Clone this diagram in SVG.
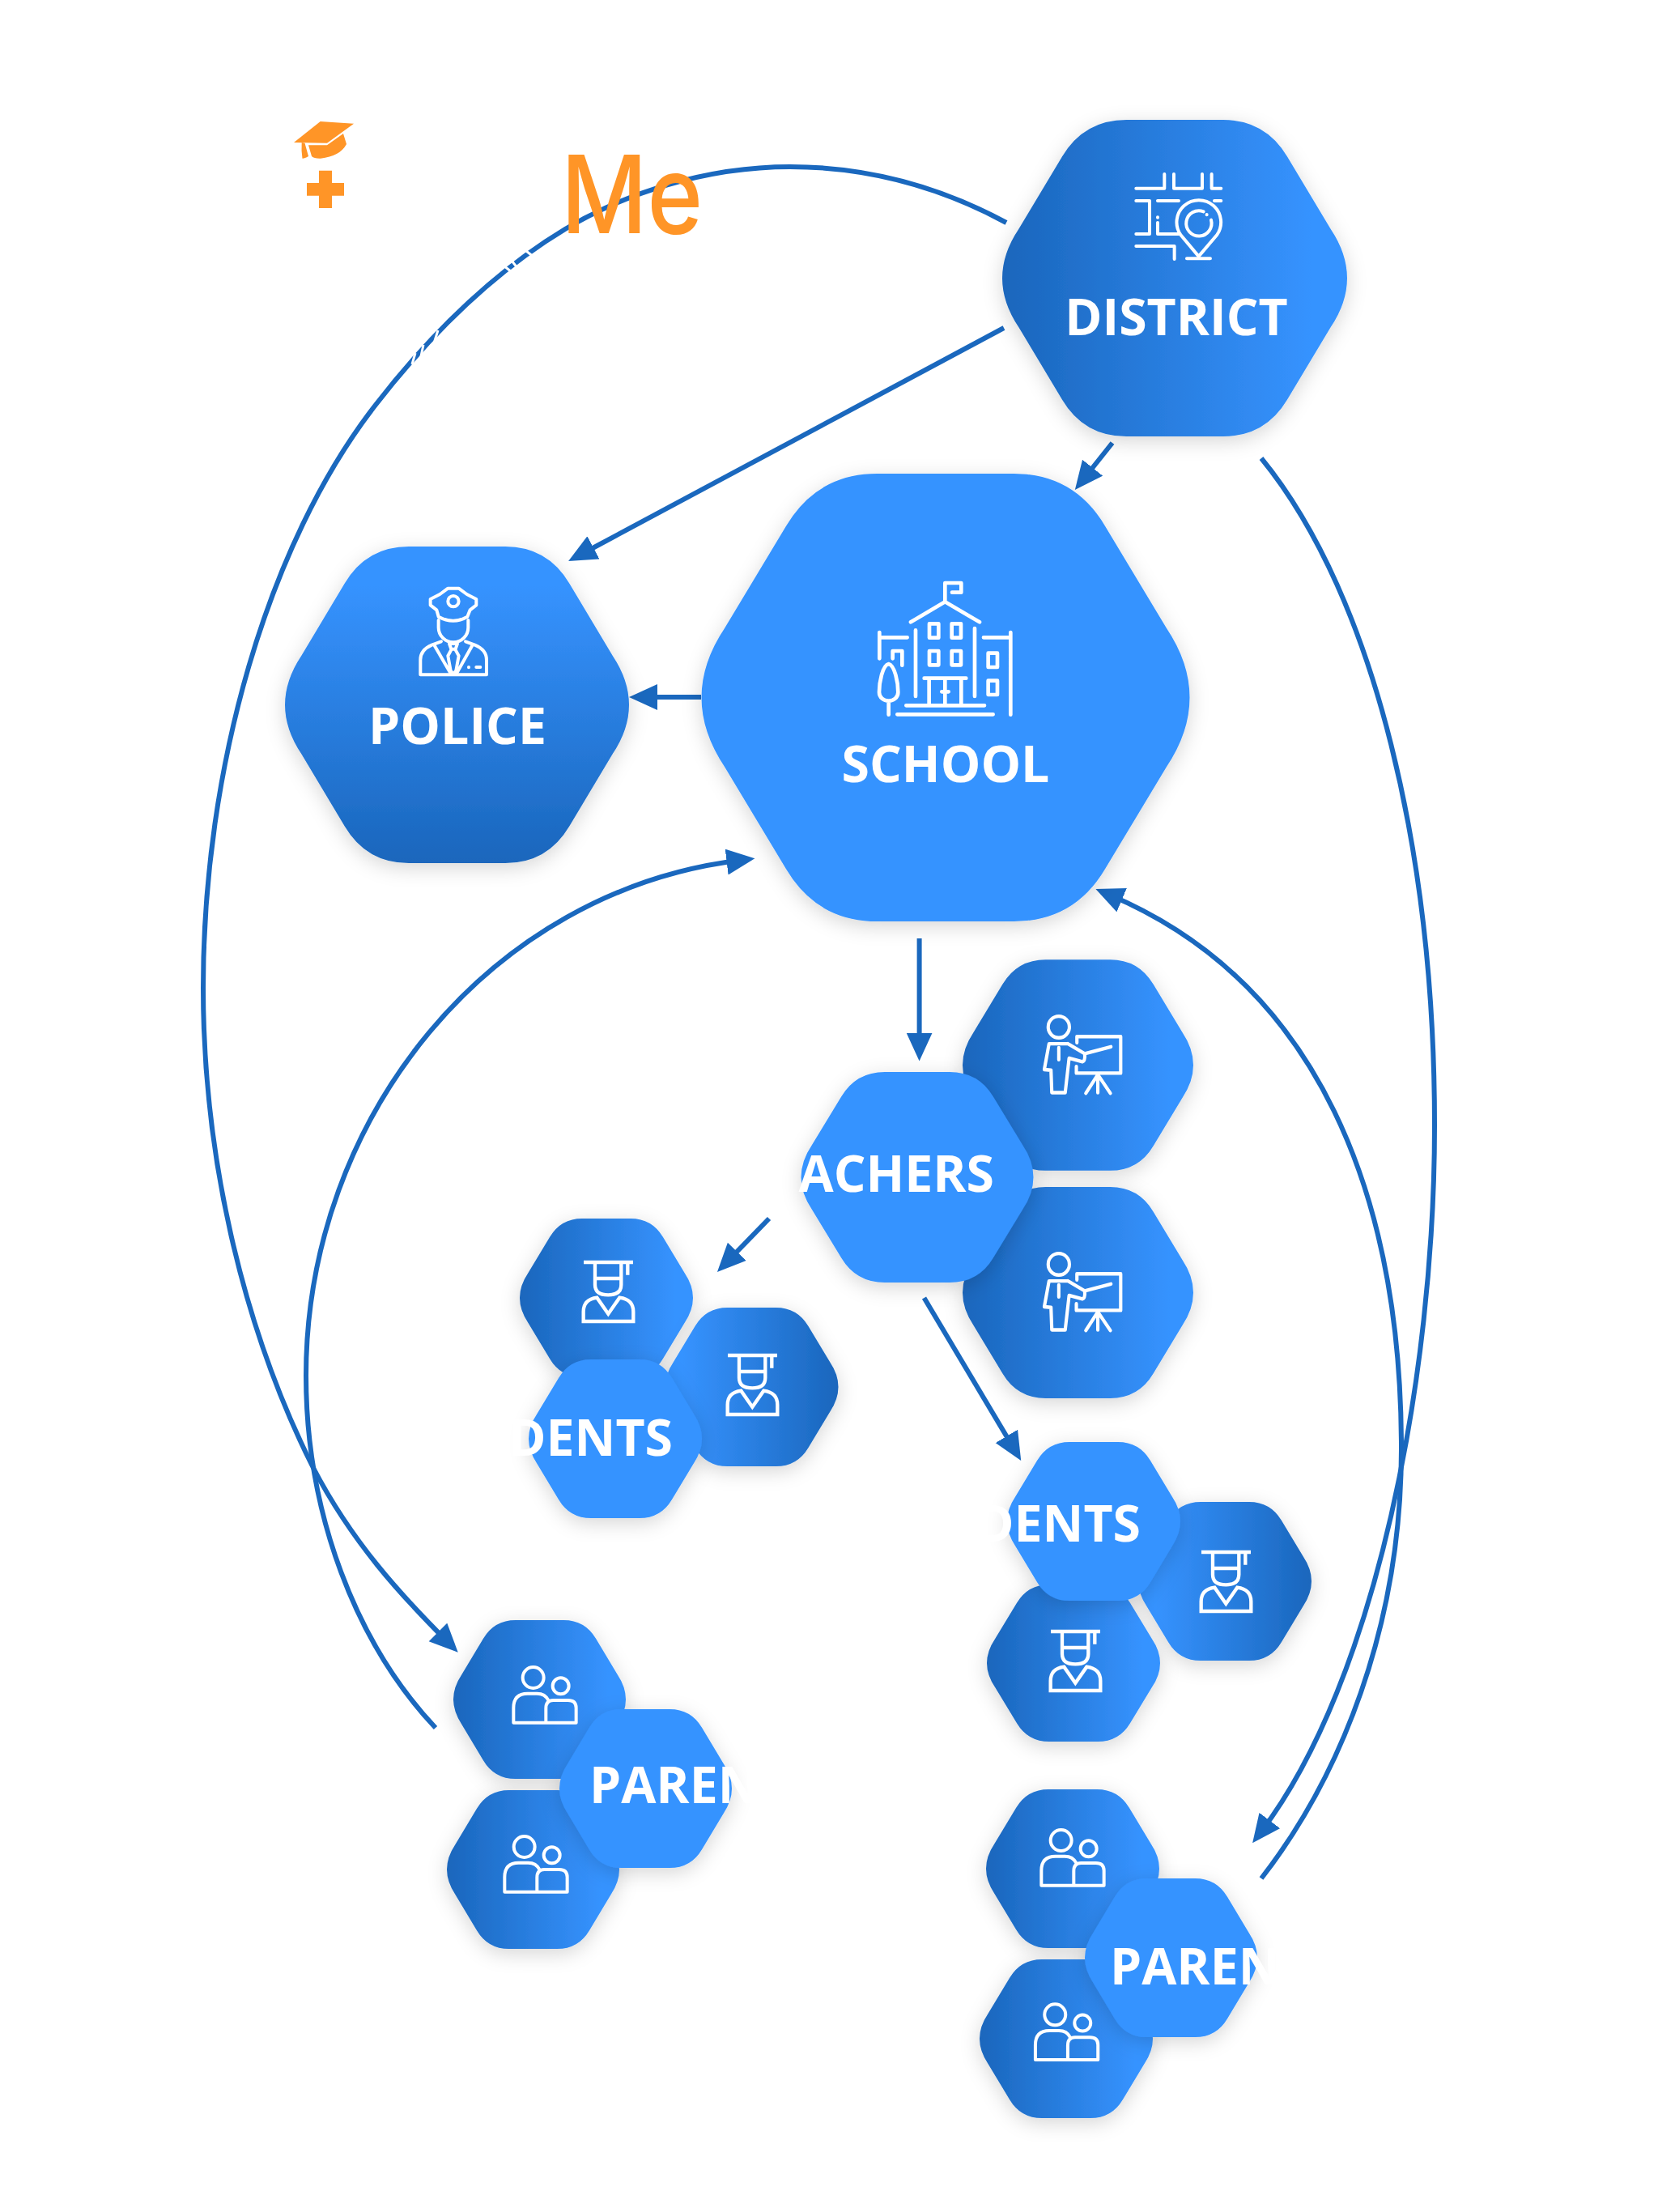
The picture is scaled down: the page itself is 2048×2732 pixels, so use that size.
<svg xmlns="http://www.w3.org/2000/svg" xmlns:xlink="http://www.w3.org/1999/xlink" width="2048" height="2732" viewBox="0 0 2048 2732">
<style>
.lbl{font-family:"Open Sans","Noto Sans","Liberation Sans",sans-serif;font-weight:700;font-size:62.500px;fill:#fff}
.flat{fill:#3693ff}.lr{fill:url(#gLR)}.rl{fill:url(#gRL)}.tb{fill:url(#gTB)}
.ic{fill:none;stroke:#fff;stroke-linecap:round;stroke-linejoin:round}
.sq{fill:none;stroke:#fff;stroke-linecap:butt;stroke-linejoin:miter}
.c{fill:none;stroke:#1a68be;stroke-width:6}
.o{fill:#ff9527}
</style>
<defs>
<linearGradient id="gLR" x1="0" y1="0" x2="1" y2="0"><stop offset="0" stop-color="#1a66bc"/><stop offset=".9" stop-color="#3693ff"/></linearGradient>
<linearGradient id="gRL" x1="1" y1="0" x2="0" y2="0"><stop offset="0" stop-color="#1a66bc"/><stop offset=".9" stop-color="#3693ff"/></linearGradient>
<linearGradient id="gTB" x1="0" y1="0" x2="0" y2="1"><stop offset=".12" stop-color="#3693ff"/><stop offset="1" stop-color="#1a66bc"/></linearGradient>
<filter id="sh" x="-25%" y="-25%" width="150%" height="150%"><feDropShadow dx="0" dy="6" stdDeviation="12" flood-color="#000" flood-opacity=".16"/></filter>
<marker id="ah" markerUnits="userSpaceOnUse" markerWidth="36" markerHeight="33" refX="17" refY="16" orient="auto"><path d="M0 0L35 16L0 32Z" fill="#1a68be"/></marker>
<path id="hex" d="M-.28 -1L.28 -1Q.526 -1 .653 -.767L.905 -.31Q1.095 0 .905 .31L.653 .767Q.526 1 .28 1L-.28 1Q-.526 1 -.653 .767L-.905 .31Q-1.095 0 -.905 -.31L-.653 -.767Q-.526 -1 -.28 -1Z"/>
<g id="icTeacher" transform="translate(960 1170) scale(.3444 .37)" class="ic" stroke-width="12">
<ellipse cx="1010" cy="266" rx="38" ry="36"/>
<path d="M1043 322H975L958 408L982 410L985 485H1033L1047 370L1095 382Q1105 380 1103 355L1043 322"/>
<path d="M1010 335V375M1103 355L1197 332M1075 318V298H1232V420H1073V398M1150 425V485M1150 425L1107 487M1150 425L1195 487"/>
</g>
<g id="icStudent" transform="translate(620 1480) scale(.3333)" class="sq" stroke-width="13">
<path d="M303 237H486M466 237V284M345 237V320Q345 358 394 358Q442 358 442 320V237M345 297H442"/>
<path d="M302 456V420Q302 375 352 368L394 428L436 368Q487 375 487 420V456Z"/>
</g>
<g id="icParent" transform="translate(520 1980) scale(.3333)" class="ic" stroke-width="12">
<circle cx="416" cy="276" r="39"/><circle cx="518" cy="307" r="30"/>
<path d="M343 443V388Q343 335 395 335H430Q460 335 472 360M343 443H575V388Q575 360 545 360H490Q463 360 463 390V443"/>
</g>
</defs>
<rect width="2048" height="2732" fill="#fff"/>

<g id="connectors">
<path class="c" marker-end="url(#ah)" d="M1374 547L1339 591"/>
<path class="c" marker-end="url(#ah)" d="M1240 405L718 684.500"/>
<path class="c" marker-end="url(#ah)" d="M866 861H795"/>
<path class="c" marker-end="url(#ah)" d="M1135.600 1159V1292.600"/>
<path class="c" marker-end="url(#ah)" d="M950 1505L898.500 1558"/>
<path class="c" marker-end="url(#ah)" d="M1141.500 1603L1252 1788.500"/>
<path class="c" marker-end="url(#ah)" d="M1243 275C1160 230 1070 206 976 206C870 206 770 240 698 283C610 336 530 415 464 500C330 672 251 950 251 1220C251 1440 305 1650 387 1813C435 1905 495 1970 553 2028"/>
<path class="c" marker-end="url(#ah)" d="M538 2134C440 2030 378 1870 378 1699C378 1380 605 1100 914.500 1062.500"/>
<path class="c" marker-end="url(#ah)" d="M1558 2320C1655 2195 1731 2010 1731 1790C1731 1480 1630 1215 1370 1105"/>
<path class="c" marker-end="url(#ah)" d="M1558 566C1700 740 1772 1060 1772 1390C1772 1700 1700 2075 1558 2262"/>
</g>
<g id="line-gaps" fill="none" stroke="#fff" stroke-width="3">
<path d="M650 310L660 318M632 322L640 332M622 328L632 336M541 408L536 424M523 426L520 440M513 436L509 450"/>
</g>

<g id="logo">
<path class="o" d="M395.700 150L437 152.700L404 176.700L363 176Z"/>
<path class="o" d="M424 165L428 178Q420 193 396 195.700Q388 196 385 193L381 179.300H404Z"/>
<path class="o" d="M372.700 176L376.500 176.700L381 193Q376 196 373.500 195.700Q372 186 372.700 176Z"/>
<path class="o" d="M394 210.700H410V226H425V241.700H410V257H394V241.700H379V226H394Z"/>
<text x="693" y="288" class="o" font-family="Inter,'Liberation Sans',sans-serif" font-weight="500" font-size="134" textLength="175" lengthAdjust="spacingAndGlyphs">Me</text>
</g>

<g id="node-district">
<g filter="url(#sh)"><use href="#hex" class="lr" transform="translate(1451 343.500) scale(213 195.500)"/></g>
<g class="ic" stroke-width="12" transform="translate(1200 120) scale(.3333)">
<path d="M610 338H715V285M750 285V338H855V285M890 285V338H925M610 384H660V507H610M690 384H768M900 384H925M690 465V507H768M690 445V446"/>
<path d="M842 590L775 510A82 82 0 1 1 910 510Z"/>
<path d="M860 424A47 47 0 1 0 888 455M872 435V436"/>
<path d="M610 552H752V600M798 598H885"/>
</g>
<text class="lbl" x="1453" y="414" text-anchor="middle">DISTRICT</text>
</g>

<g id="node-police">
<g filter="url(#sh)"><use href="#hex" class="tb" transform="translate(564.500 870.500) scale(212.500 195.500)"/></g>
<g class="ic" stroke-width="12" transform="translate(340 660) scale(.3333)">
<path d="M640 200H680L710 222L745 240V262L722 280L712 305Q660 335 605 305L598 280L575 262V240L610 222Z"/>
<circle cx="660" cy="248" r="20"/>
<path d="M605 318V345A55 55 0 0 0 715 345V318"/>
<path d="M615 397L580 410Q538 428 538 465V520H783V465Q783 428 740 410L705 397"/>
<path d="M590 412L650 515M730 412L672 515M645 405H675L668 425H652ZM652 428L640 450L650 505L660 518L670 505L680 450L668 428M717 492V493M745 492H760"/>
</g>
<text class="lbl" x="565" y="919" text-anchor="middle">POLICE</text>
</g>

<g id="node-school">
<g filter="url(#sh)"><use href="#hex" class="flat" transform="translate(1168 861.500) scale(301.500 276.500)"/></g>
<g class="ic" stroke-width="14" transform="translate(1000 680) scale(.3333)">
<path d="M502 190V120H562V155H528M375 265L502 190L630 265M393 295V540M612 288V540"/>
<rect x="444" y="271" width="34" height="52"/><rect x="527" y="271" width="34" height="52"/>
<rect x="444" y="372" width="34" height="52"/><rect x="527" y="372" width="34" height="52"/>
<rect x="662" y="380" width="34" height="52"/><rect x="662" y="482" width="34" height="52"/>
<path d="M425 473H580M443 473V570M562 473V570M502 480V570M490 523H515M358 574H648M325 607H680"/>
<path d="M259 303V400M259 322H362M308 400V372H343V425M645 322H745M745 303V608"/>
<path d="M293 420C270 425 258 490 258 525C258 545 275 557 293 557C311 557 328 545 328 525C328 490 316 425 293 420ZM293 557V608"/>
</g>
<text class="lbl" x="1168" y="966" text-anchor="middle">SCHOOL</text>
</g>

<g id="node-teacher-a">
<g filter="url(#sh)"><use href="#hex" class="lr" transform="translate(1331.500 1315.500) scale(142.500 130.300)"/></g>
<use href="#icTeacher"/>
</g>
<g id="node-teacher-b">
<g filter="url(#sh)"><use href="#hex" class="lr" transform="translate(1331.500 1596.500) scale(142.500 130.500)"/></g>
<use href="#icTeacher" transform="translate(0 293)"/>
</g>
<g id="node-teachers">
<g filter="url(#sh)"><use href="#hex" class="flat" transform="translate(1133 1454) scale(143.500 130)"/></g>
<text class="lbl" x="1228" y="1472" text-anchor="end">ACHERS</text>
</g>

<g id="node-student-l1">
<g filter="url(#sh)"><use href="#hex" class="lr" transform="translate(749 1603) scale(107 98)"/></g>
<use href="#icStudent"/>
</g>
<g id="node-student-l2">
<g filter="url(#sh)"><use href="#hex" class="rl" transform="translate(928.500 1713) scale(107 98)"/></g>
<use href="#icStudent" transform="translate(178 115)"/>
</g>
<g id="node-students-left">
<g filter="url(#sh)"><use href="#hex" class="flat" transform="translate(760 1777) scale(107 98)"/></g>
<text class="lbl" x="831" y="1798" text-anchor="end">DENTS</text>
</g>

<g id="node-student-r1">
<g filter="url(#sh)"><use href="#hex" class="rl" transform="translate(1513 1953) scale(107 98)"/></g>
<use href="#icStudent" transform="translate(763 358)"/>
</g>
<g id="node-student-r2">
<g filter="url(#sh)"><use href="#hex" class="lr" transform="translate(1326 2054) scale(107 97)"/></g>
<use href="#icStudent" transform="translate(577 456)"/>
</g>
<g id="node-students-right">
<g filter="url(#sh)"><use href="#hex" class="flat" transform="translate(1351 1879) scale(107 98)"/></g>
<text class="lbl" x="1409" y="1903.500" text-anchor="end">DENTS</text>
</g>

<g id="node-parent-l1">
<g filter="url(#sh)"><use href="#hex" class="lr" transform="translate(666.500 2099) scale(106.500 98)"/></g>
<use href="#icParent"/>
</g>
<g id="node-parent-l2">
<g filter="url(#sh)"><use href="#hex" class="lr" transform="translate(658.500 2309) scale(106.500 98)"/></g>
<use href="#icParent" transform="translate(-11 209)"/>
</g>
<g id="node-parents-left">
<g filter="url(#sh)"><use href="#hex" class="flat" transform="translate(797.500 2209) scale(106.500 98)"/></g>
<text class="lbl" x="728" y="2227">PAREN</text>
</g>

<g id="node-parent-r1">
<g filter="url(#sh)"><use href="#hex" class="lr" transform="translate(1325 2308) scale(107 98)"/></g>
<use href="#icParent" transform="translate(652 201)"/>
</g>
<g id="node-parent-r2">
<g filter="url(#sh)"><use href="#hex" class="lr" transform="translate(1317 2518) scale(107 98)"/></g>
<use href="#icParent" transform="translate(644.600 416.300)"/>
</g>
<g id="node-parents-right">
<g filter="url(#sh)"><use href="#hex" class="flat" transform="translate(1446.500 2418) scale(106.500 98)"/></g>
<text class="lbl" x="1371" y="2451">PAREN</text>
</g>
</svg>
